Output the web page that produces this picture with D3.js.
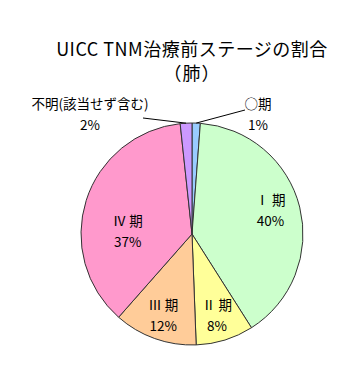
<!DOCTYPE html>
<html><head><meta charset="utf-8">
<script src="https://cdn.jsdelivr.net/npm/d3@7"></script>
<style>body{margin:0;background:#fff}svg{display:block}text{font-family:"Noto Sans CJK JP","Noto Sans",sans-serif;fill:#000}</style>
</head><body>
<script>
const categories = ["○期", "Ⅰ 期", "Ⅱ 期", "Ⅲ 期", "Ⅳ 期", "不明(該当せず含む)"];
const values = [1.2, 39.8, 8.4, 12.1, 36.8, 1.7];
const pctLabels = ["1%", "40%", "8%", "12%", "37%", "2%"];
const colors = ["#99CCFF", "#CCFFCC", "#FFFF99", "#FFCC99", "#FF99CC", "#CC99FF"];
const titleLines = ["UICC TNM治療前ステージの割合", "（肺）"];

const W = 361, H = 384;
const cx = 192, cy = 234, R = 111;
const svg = d3.select("body").append("svg").attr("width", W).attr("height", H);

svg.selectAll("text.title").data(titleLines).join("text")
  .attr("class", "title")
  .attr("x", cx).attr("y", (d, i) => 56 + i * 24)
  .attr("text-anchor", "middle").attr("font-size", 18)
  .attr("letter-spacing", (d, i) => i === 0 ? 0.5 : 1).text(d => d);

const data = categories.map((c, i) => ({cat: c, v: values[i], pct: pctLabels[i], color: colors[i]}));
const pie = d3.pie().sort(null).value(d => d.v);
const arcs = pie(data);
const arc = d3.arc().innerRadius(0).outerRadius(R);
const g = svg.append("g").attr("transform", `translate(${cx},${cy})`);
g.selectAll("path").data(arcs).join("path")
  .attr("d", arc).attr("fill", d => d.data.color)
  .attr("stroke", "#333").attr("stroke-width", 1);

// label layout: inside labels radius fraction & angle tweak; outside labels via leader
const layout = [
  {out: true, ex: 53, ey: -124, lx: 66, ly: -120},
  {r: 0.74, da: -3},
  {r: 0.76, da: 0},
  {r: 0.77, da: 0},
  {r: 0.58, da: -15},
  {out: true, ex: -49, ey: -116, lx: -102, ly: -120}
];
arcs.forEach((a, i) => {
  const L = layout[i];
  let x, y;
  if (L.out) {
    const mid = (a.startAngle + a.endAngle) / 2;
    const px = Math.sin(mid) * R, py = -Math.cos(mid) * R;
    g.append("line").attr("x1", px).attr("y1", py).attr("x2", L.ex).attr("y2", L.ey)
      .attr("stroke", "#000").attr("stroke-width", 1);
    x = L.lx; y = L.ly;
  } else {
    const mid = (a.startAngle + a.endAngle) / 2 + L.da * Math.PI / 180;
    x = Math.sin(mid) * R * L.r; y = -Math.cos(mid) * R * L.r;
  }
  const t = g.append("text").attr("text-anchor", "middle").attr("font-size", 13.5);
  t.append("tspan").attr("x", x).attr("y", y - 5).text(a.data.cat);
  t.append("tspan").attr("x", x).attr("y", y + 16).text(a.data.pct);
});
</script>
</body></html>
